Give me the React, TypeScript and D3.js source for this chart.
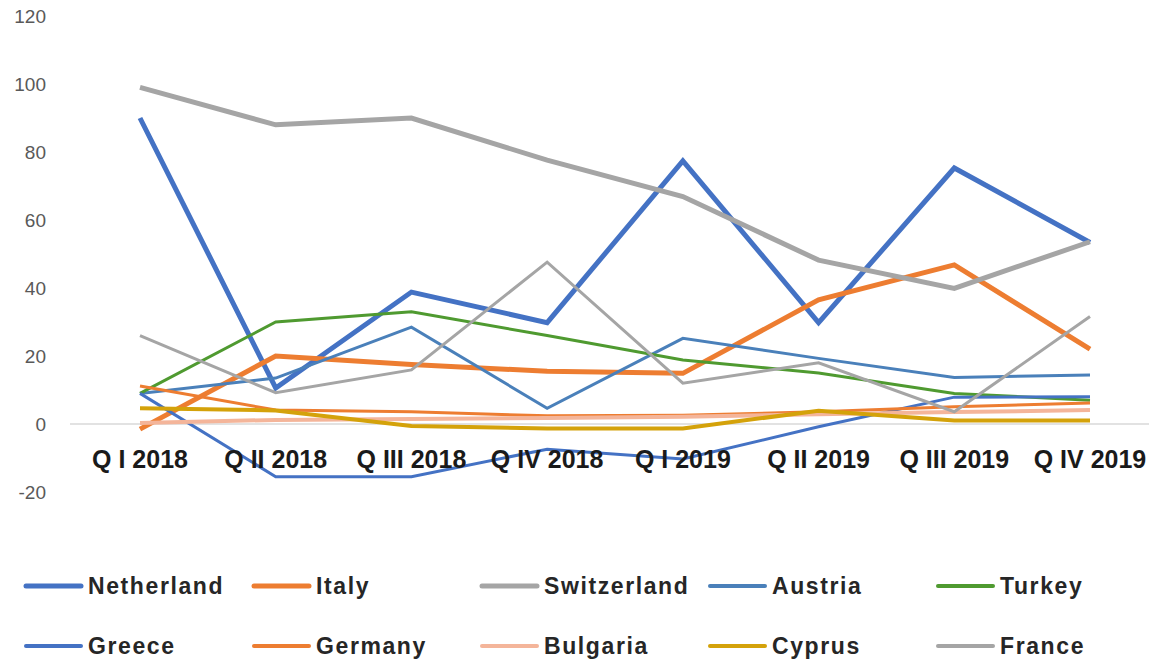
import React from "react";
import * as d3 from "d3";

const categories = ["Q I 2018", "Q II 2018", "Q III 2018", "Q IV 2018", "Q I 2019", "Q II 2019", "Q III 2019", "Q IV 2019"];
const yTicks = [-20, 0, 20, 40, 60, 80, 100, 120];

const netherland = [90, 10.6, 38.8, 29.8, 77.4, 29.8, 75.3, 53.4];
const italy = [-1.5, 20, 17.5, 15.5, 14.9, 36.5, 46.8, 22];
const switzerland = [99, 88, 90, 77.6, 66.9, 48.2, 39.9, 53.6];
const austria = [9, 13.5, 28.5, 4.6, 25.2, 19.3, 13.7, 14.4];
const turkey = [9, 30, 33, 26, 18.8, 15, 9, 7];
const greece = [9, -15.5, -15.5, -7.4, -10.3, -0.8, 7.9, 8];
const germany = [11.2, 4.1, 3.6, 2.4, 2.6, 3.6, 5.1, 6.2];
const bulgaria = [0.3, 1.2, 1.5, 1.8, 2.1, 2.9, 3.5, 4.1];
const cyprus = [4.6, 4, -0.6, -1.3, -1.3, 3.9, 1, 1];
const france = [26, 9.2, 15.9, 47.6, 12, 18, 3.6, 31.6];

const seriesNames = ["Netherland", "Italy", "Switzerland", "Austria", "Turkey", "Greece", "Germany", "Bulgaria", "Cyprus", "France"];
const seriesValues = [netherland, italy, switzerland, austria, turkey, greece, germany, bulgaria, cyprus, france];
const seriesColors = ["#4472C4", "#ED7D31", "#A5A5A5", "#4A80BA", "#4F9A30", "#4472C4", "#ED7D31", "#F4B59A", "#D4A20A", "#A5A5A5"];
const seriesWidths = [5, 5, 5, 3, 3, 3, 3, 4, 4, 3];

export default function App() {
  const W = 1149;
  const H = 661;
  const x = d3.scalePoint<string>().domain(categories).range([140, 1090]);
  const y = d3.scaleLinear().domain([-20, 120]).range([492, 16]);
  const line = d3
    .line<number>()
    .x((_, i) => x(categories[i]) as number)
    .y((d) => y(d));

  const legendCol = (i: number) => 26 + (i % 5) * 228;
  const legendRow = (i: number) => (i < 5 ? 586 : 646);

  return (
    <svg
      width={W}
      height={H}
      style={{ position: "absolute", left: 0, top: 0, background: "#fff", display: "block" }}
    >
      <rect x={0} y={0} width={W} height={H} fill="#fff" />
      {yTicks.map((t) => (
        <text
          key={t}
          x={46}
          y={y(t)}
          textAnchor="end"
          dominantBaseline="central"
          fontFamily="'Liberation Sans', Arial, sans-serif"
          fontSize={19}
          fill="#595959"
        >
          {t}
        </text>
      ))}
      <line x1={70} x2={W} y1={y(0)} y2={y(0)} stroke="#D9D9D9" strokeWidth={1.5} />
      {seriesValues.map((vals, i) => (
        <path
          key={seriesNames[i]}
          d={line(vals) || ""}
          fill="none"
          stroke={seriesColors[i]}
          strokeWidth={seriesWidths[i]}
          strokeLinejoin="miter"
          strokeLinecap="butt"
        />
      ))}
      {categories.map((c) => (
        <text
          key={c}
          x={x(c) as number}
          y={468}
          textAnchor="middle"
          fontFamily="'Liberation Sans', Arial, sans-serif"
          fontWeight="bold"
          fontSize={25}
          fill="#1a1a1a"
        >
          {c}
        </text>
      ))}
      {seriesNames.map((n, i) => (
        <g key={n}>
          <line
            x1={legendCol(i)}
            x2={legendCol(i) + 55}
            y1={legendRow(i)}
            y2={legendRow(i)}
            stroke={seriesColors[i]}
            strokeWidth={seriesWidths[i] === 5 ? 5 : 4}
            strokeLinecap="round"
          />
          <text
            x={legendCol(i) + 62}
            y={legendRow(i)}
            dominantBaseline="central"
            fontFamily="'Liberation Sans', Arial, sans-serif"
            fontWeight="bold"
            fontSize={23}
            letterSpacing={1.6}
            fill="#262626"
          >
            {n}
          </text>
        </g>
      ))}
    </svg>
  );
}
